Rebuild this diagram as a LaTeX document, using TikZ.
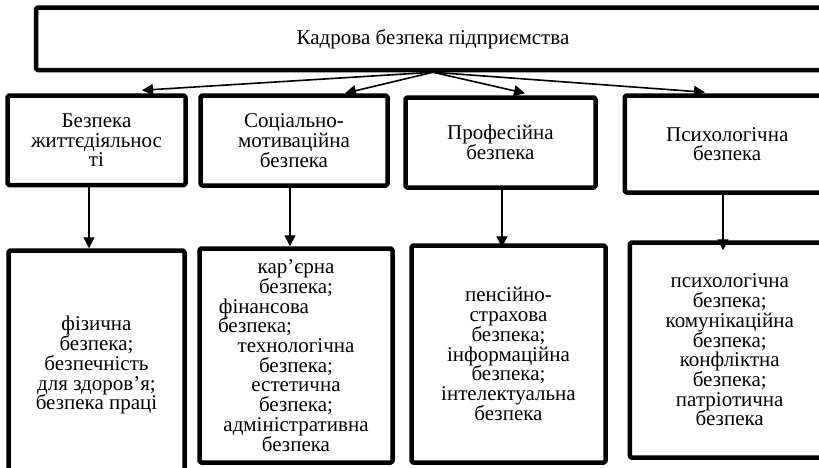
\documentclass[tikz,border=0pt]{standalone}
\usepackage{fontspec}
\setmainfont{Liberation Serif}
\usetikzlibrary{arrows.meta}

\begin{document}
\begin{tikzpicture}[line cap=round,line join=round,>={Triangle[length=11pt,width=11pt]},x=1pt,y=-1pt, box/.style={draw, line width=4.5pt, rounded corners=1.5pt, inner sep=0pt, align=center, font=\fontsize{21}{19.7}\selectfont}, link/.style={->, line width=1.6pt}]
                        \useasboundingbox (0,0) rectangle (819,467);

                        \node[box, minimum width=794pt, minimum height=62.5pt] (top) at (433,38.75) {Кадрова безпека підприємства};

                        \node[box, minimum width=178pt, minimum height=89.5pt] (b1) at (96.5,140.25) {Безпека\\життєдіяльнос\\ті};
                        \node[box, minimum width=187pt, minimum height=90pt] (b2) at (294,140.5) {Соціально-\\мотиваційна\\безпека};
                        \node[box, minimum width=190pt, minimum height=90pt] (b3) at (500.5,142.5) {Професійна\\безпека};
                        \node[box, minimum width=205pt, minimum height=97pt] (b4) at (727.25,144) {Психологічна\\безпека};

                        \node[box, minimum width=176pt, minimum height=229.5pt] (c1) at (96.5,365.25) {фізична\\безпека;\\безпечність\\для здоров’я;\\безпека праці};
                        \node[box, minimum width=193pt, minimum height=214pt] (c2) at (296,355.5) {кар’єрна\\безпека;\\фінансова\makebox[64pt]{}\\безпека;\makebox[82pt]{}\\технологічна\\безпека;\\естетична\\безпека;\\адміністративна\\безпека};
                        \node[box, minimum width=194pt, minimum height=217pt] (c3) at (508.5,354) {пенсійно-\\страхова\\безпека;\\інформаційна\\безпека;\\інтелектуальна\\безпека};
                        \node[box, minimum width=200pt, minimum height=215pt] (c4) at (729.75,350) {психологічна\\безпека;\\комунікаційна\\безпека;\\конфліктна\\безпека;\\патріотична\\безпека};

                        \draw [link] (top.south) -- ([xshift=45.5pt,yshift=3pt]b1.north);
                        \draw [link] (top.south) -- ([xshift=51pt]b2.north);
                        \draw [link] (top.south) -- ([xshift=24.5pt,yshift=2pt]b3.north);
                        \draw [link] (top.south) -- ([xshift=-22.25pt,yshift=1pt]b4.north);

                        \draw [link, line width=1.3pt] ([xshift=-7.5pt]b1.south) -- ([xshift=-7.5pt]c1.north);
                        \draw [link, line width=1.3pt] ([xshift=-4pt]b2.south) -- ([xshift=-4pt]b2.south |- c2.north);
                        \draw [link, line width=1.3pt] ([xshift=1.5pt]b3.south) -- ([xshift=1.5pt,yshift=-4pt]b3.south |- c3.north);
                        \draw [link, line width=1.3pt] ([xshift=-4.25pt]b4.south) -- ([xshift=-4.25pt,yshift=-10pt]b4.south |- c4.north);
                    \end{tikzpicture}
\end{document}
